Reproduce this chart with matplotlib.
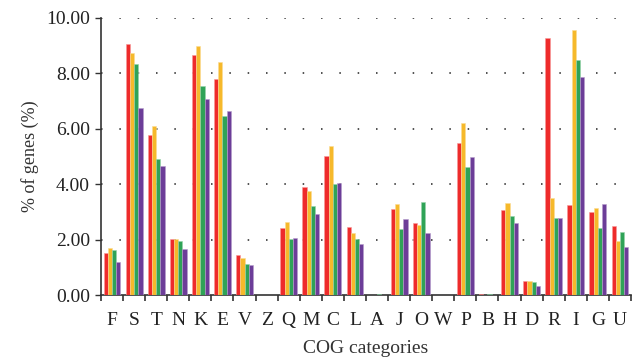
import matplotlib
matplotlib.use("Agg")
import matplotlib.pyplot as plt
import numpy as np

categories = ["F","S","T","N","K","E","V","Z","Q","M","C","L","A","J","O","W","P","B","H","D","R","I","G","U"]
red    = [1.52,9.06,5.79,2.01,8.68,7.81,1.44,0,2.42,3.89,5.02,2.45,0,3.12,2.60,0,5.48,0.02,3.07,0.52,9.28,3.26,3.01,2.49]
orange = [1.71,8.75,6.11,2.01,9.00,8.42,1.35,0,2.64,3.75,5.39,2.25,0,3.30,2.53,0,6.22,0,3.31,0.49,3.50,9.57,3.15,1.94]
green  = [1.61,8.35,4.92,1.95,7.56,6.46,1.12,0,2.02,3.21,4.02,2.02,0.03,2.38,3.37,0,4.63,0.03,2.85,0.47,2.78,8.50,2.41,2.27]
purple = [1.19,6.75,4.66,1.66,7.08,6.65,1.07,0,2.06,2.92,4.06,1.84,0,2.73,2.24,0,4.98,0,2.61,0.32,2.78,7.86,3.30,1.73]
yticks = [0,2,4,6,8,10]

series = [red, orange, green, purple]
colors = ["#EE2B2B", "#F6B92B", "#2FA357", "#6C3D98"]
edges = ["#F79A9A", "#FBDC95", "#98D2AB", "#B69ECB"]

plt.rcParams['font.family'] = ['Liberation Serif', 'DejaVu Serif']

fig = plt.figure(figsize=(6.41, 3.61), dpi=100)
ax = fig.add_axes([101/641, 1-295/361, 530/641, 277/361])

x = np.arange(len(categories))
w = 0.19
for i, (vals, c, e) in enumerate(zip(series, colors, edges)):
    ax.bar(x + (i - 1.5) * w, vals, width=w, color=c, edgecolor=e, linewidth=0.4, zorder=3)

ax.set_xlim(-0.5, len(categories) - 0.5)
ax.set_ylim(0, 10)
ax.set_yticks(yticks)
ax.set_yticklabels([f"{v:.2f}" for v in yticks], fontsize=14, color='#222222')
ax.set_xticks(x)
ax.set_xticklabels(categories, fontsize=14, color='#222222')
ax.set_xticks(np.arange(-0.5, len(categories)), minor=True)
ax.tick_params(axis='x', which='major', length=0, pad=12)
ax.tick_params(axis='x', which='minor', length=4, width=1.2, color='#333333', direction='out')
ax.tick_params(axis='y', length=4, width=1, color='#333333', direction='out', pad=4)

for v in yticks[1:]:
    ax.axhline(v, color='#222222', linestyle=(0, (1, 11)), linewidth=1.1, zorder=1)

for s in ['top', 'right']:
    ax.spines[s].set_visible(False)
for s in ['left', 'bottom']:
    ax.spines[s].set_color('#333333')
    ax.spines[s].set_linewidth(1.2)

ax.set_ylabel("% of genes (%)", fontsize=13, color='#333333', labelpad=5)
ax.set_xlabel("COG categories", fontsize=14, color='#333333', labelpad=8)

fig.savefig("out.png", dpi=100)
